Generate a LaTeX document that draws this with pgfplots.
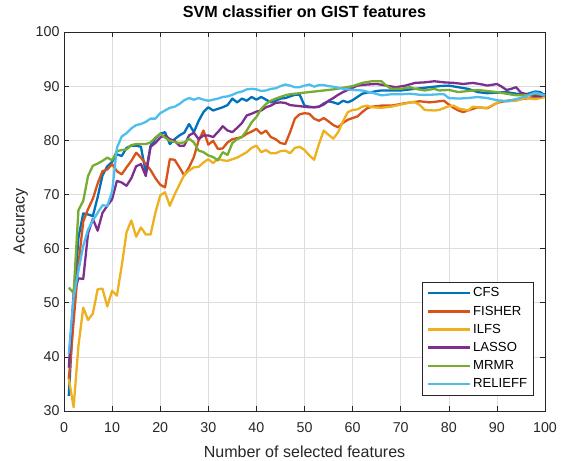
\documentclass[border=0pt]{standalone}
\usepackage{fontspec}
\setmainfont{Liberation Sans}
\usepackage{pgfplots}
\pgfplotsset{compat=1.18}
\definecolor{cCFS}{RGB}{0,114,189}
\definecolor{cFISHER}{RGB}{217,83,25}
\definecolor{cILFS}{RGB}{237,177,32}
\definecolor{cLASSO}{RGB}{126,47,142}
\definecolor{cMRMR}{RGB}{119,172,48}
\definecolor{cRELIEFF}{RGB}{77,190,238}
\definecolor{axgray}{RGB}{38,38,38}
\begin{document}
\begin{tikzpicture}
\useasboundingbox (-64bp,-50bp) rectangle (498bp,411bp);
\begin{axis}[
  scale only axis, width=481bp, height=379bp,
  xmin=0, xmax=100, ymin=30, ymax=100,
  xtick={0,10,...,100}, ytick={30,40,...,100},
  grid=major, grid style={color=black!13, line width=0.5bp},
  axis line style={color=axgray, line width=0.5bp},
  tick align=inside, tick pos=both,
  major tick length=5bp,
  tick style={color=axgray, line width=0.5bp},
  /pgf/number format/assume math mode=true,
  ticklabel style={font=\fontsize{14.3}{16}\selectfont, color=axgray},
  xticklabel style={yshift=-8bp},
  yticklabel style={xshift=-1bp},
  xlabel={Number of selected features}, ylabel={Accuracy},
  label style={font=\fontsize{16.1}{18}\selectfont, color=axgray},
  xlabel style={at={(axis description cs:0.5,-0.108)}, anchor=center},
  ylabel style={at={(axis description cs:-0.090,0.5)}, anchor=center},
  title={SVM classifier on GIST features},
  title style={font=\fontsize{16.2}{18}\selectfont\bfseries, at={(axis description cs:0.5,1.037)}, anchor=center},
  every axis plot/.append style={line width=2.3bp, line join=round},
  legend style={font=\fontsize{13.2}{15}\selectfont, at={(0.977,0.042)}, anchor=south east, draw=axgray, line width=0.5bp, fill=white, row sep=3.6bp, inner xsep=4.5bp, inner ysep=3.5bp},
  legend cell align=left,
  legend image code/.code={\draw[#1, line width=2.6bp, line cap=butt] (0bp,0bp) -- (42bp,0bp);},
]
\addplot[color=cCFS] coordinates {
(1,32.8)(2,49)(3,62)(4,66.5)(5,66.3)(6,66)(7,69.5)(8,73.5)(9,75.2)(10,76)
(11,77.4)(12,77.1)(13,78.6)(14,79)(15,79)(16,78.8)(17,74)(18,79)(19,80.3)(20,81.2)
(21,81.5)(22,79.3)(23,80.2)(24,80.9)(25,81.4)(26,83)(27,81.5)(28,83.6)(29,85.2)(30,86.1)
(31,85.5)(32,85.8)(33,86.1)(34,86.5)(35,87.7)(36,87)(37,87.7)(38,87.3)(39,88)(40,87.5)
(41,88)(42,87.5)(43,87)(44,87.3)(45,87.7)(46,87.8)(47,88.1)(48,88.4)(49,88.4)(50,86.4)
(51,86.2)(52,86.1)(53,86.2)(54,86.8)(55,87.2)(56,87)(57,86.7)(58,87.3)(59,87)(60,87.4)
(61,88)(62,88.6)(63,88.8)(64,88.9)(65,89.1)(66,89.2)(68,89.2)(70,89.2)(72,89.4)(74,89.6)
(76,89.8)(78,90)(80,90.1)(82,89.8)(84,89.5)(86,88.9)(88,88.7)(90,88.8)(92,88.9)(94,88.6)
(96,88.5)(98,89)(99,88.9)(100,88.3)};
\addlegendentry{CFS}
\addplot[color=cFISHER] coordinates {
(1,35.9)(2,46.5)(3,57)(4,65)(5,67.3)(6,69.2)(7,72)(8,74.3)(9,74.6)(10,75.6)
(11,74.3)(12,73.7)(13,75)(14,76.2)(15,77.7)(16,76.8)(17,75.6)(18,74.5)(19,73)(20,71.8)
(21,71.3)(22,76.5)(23,76.4)(24,75)(25,73.5)(26,75)(27,76.9)(28,80)(29,81.8)(30,79.2)
(31,79.9)(32,78.4)(33,78.5)(34,79.6)(35,80.2)(36,80.4)(37,80.6)(38,81.2)(39,81.6)(40,82.1)
(41,81.2)(42,81.8)(43,80.6)(44,80.2)(45,79.5)(46,79.3)(47,81.5)(48,84)(49,84.8)(50,85)
(51,84.9)(52,84)(53,83.6)(54,84.1)(55,83.5)(56,82.8)(57,82.4)(58,83.2)(59,83.8)(60,84.1)
(61,84.4)(62,85.2)(63,85.9)(64,86.2)(66,86.4)(68,86.4)(70,86.7)(72,87)(74,87.2)(76,87)
(78,87.2)(79,87.3)(80,86.6)(81,86)(82,85.5)(83,85.2)(84,85.5)(86,86.1)(88,85.9)(90,86.9)
(92,87.3)(94,87.5)(96,87.7)(98,88)(100,88.3)};
\addlegendentry{FISHER}
\addplot[color=cILFS] coordinates {
(1,36)(2,30.7)(3,42)(4,49.1)(5,46.8)(6,48)(7,52.5)(8,52.6)(9,49.3)(10,52.2)
(11,51.3)(12,56.8)(13,63)(14,65.2)(15,62.2)(16,63.9)(17,62.6)(18,62.6)(19,66.6)(20,69.8)
(21,70.4)(22,67.9)(23,70)(24,71.8)(25,73.6)(26,74.4)(27,75)(28,75.1)(29,75.9)(30,76.5)
(31,75.8)(32,76.6)(33,76.3)(34,76.2)(35,76.5)(36,76.8)(37,77.3)(38,77.8)(39,78.6)(40,79)
(41,77.8)(42,78.2)(43,77.6)(44,77.6)(45,78)(46,78.1)(47,77.6)(48,78.6)(49,78.8)(50,78.2)
(51,77.2)(52,76.4)(53,79.3)(54,81.8)(55,81)(56,80.3)(57,81.5)(58,83.5)(59,85.2)(60,85.6)
(61,85.7)(62,86.2)(63,86.4)(64,86.1)(66,86)(68,86.2)(70,86.6)(72,87)(73,87)(74,86.5)
(75,85.6)(77,85.5)(78,85.6)(80,86.3)(81,86.4)(82,85.9)(84,85.5)(85,86.2)(87,86)(88,86)
(90,86.9)(91,87.3)(92,87.2)(94,87.3)(96,87.8)(98,87.6)(100,88)};
\addlegendentry{ILFS}
\addplot[color=cLASSO] coordinates {
(1,38)(2,51.6)(3,54.5)(4,54.4)(5,62.8)(6,65.5)(7,63.3)(8,66.6)(9,67.9)(10,69.1)
(11,72.5)(12,72.2)(13,71.6)(14,73)(15,75.2)(16,75.6)(17,73.4)(18,78.8)(19,79.5)(20,80.5)
(21,80.9)(22,80.2)(23,79.9)(24,79)(25,79)(26,80.9)(27,81.4)(28,80.2)(29,80.9)(30,80.9)
(31,80.6)(32,81.5)(33,82.6)(34,81.8)(35,81.5)(36,82.3)(37,83.2)(38,84.6)(39,84.9)(40,85.3)
(41,85.5)(42,86.1)(43,86.4)(44,86.9)(45,87)(46,86.9)(47,86.5)(48,86.4)(49,86.3)(50,86.2)
(51,86.1)(52,86.1)(53,86.2)(54,86.6)(55,87.3)(56,87.8)(57,88.4)(58,88.9)(59,89.3)(60,89.7)
(61,90.1)(63,90.3)(65,90.4)(67,90.1)(69,89.8)(71,90.1)(73,90.6)(75,90.7)(77,90.9)(79,90.7)
(81,90.6)(83,90.4)(85,90.6)(87,90.3)(88,90.1)(90,90.4)(91,89.9)(92,89.3)(93,89.5)(94,89.8)
(95,88.8)(97,88.3)(99,88.1)(100,88.5)};
\addlegendentry{LASSO}
\addplot[color=cMRMR] coordinates {
(1,52.8)(2,51.8)(3,67.1)(4,68.8)(5,73.4)(6,75.3)(7,75.7)(8,76.2)(9,76.8)(10,76.3)
(11,78)(12,78.2)(13,78.3)(14,79.1)(15,79.3)(16,79.3)(17,79.3)(18,79.6)(19,80.5)(20,81.2)
(21,80.5)(22,79.9)(23,79.7)(24,79.5)(25,79.6)(26,80.3)(27,79.6)(28,78.1)(29,77.8)(30,77.2)
(31,76.9)(32,76.3)(33,77.8)(34,77.3)(35,79.5)(36,80.2)(37,80.6)(38,81.8)(39,83.3)(40,84.3)
(41,85.8)(42,86.7)(43,87.3)(44,87.7)(45,88)(46,88.3)(47,88.5)(48,88.6)(49,88.7)(50,88.8)
(52,89)(54,89.2)(56,89.4)(58,89.7)(60,90)(62,90.6)(64,90.9)(66,90.9)(67,90.1)(68,89.5)
(70,89.5)(72,89.8)(73,89.5)(75,89.2)(77,89.5)(78,89.2)(80,89.3)(82,88.9)(84,89.1)(86,89.3)
(88,89.1)(90,88.9)(92,88.6)(94,88.3)(96,88.3)(98,88.6)(100,88.3)};
\addlegendentry{MRMR}
\addplot[color=cRELIEFF] coordinates {
(1,40.6)(2,51)(3,55.9)(4,60.5)(5,63.5)(6,65.2)(7,66.6)(8,68)(9,67.9)(10,70.5)
(11,78.6)(12,80.7)(13,81.3)(14,82.2)(15,82.8)(16,83)(17,83.4)(18,84)(19,84)(20,85)
(21,85.5)(22,86)(23,86.2)(24,86.7)(25,87.4)(26,87.8)(27,87.5)(28,87.8)(29,87.5)(30,87.3)
(31,87.5)(32,87.7)(33,88)(34,88.1)(35,88.4)(36,88.8)(37,89)(38,89.4)(39,89.5)(40,89.4)
(41,89.1)(42,89.2)(43,89.5)(44,89.6)(45,90)(46,90.3)(47,90.1)(48,89.8)(49,89.8)(50,90.1)
(51,90.3)(52,89.9)(53,90.2)(54,90.2)(55,90)(56,89.9)(58,89.5)(60,89.3)(62,89.2)(64,88.8)
(66,88.3)(68,88.5)(70,88.5)(72,88.6)(74,88.4)(76,88.4)(78,88.5)(79,88.5)(80,87.8)(82,87.7)
(84,87.8)(86,88)(88,87.8)(90,87.4)(92,87.2)(94,87.6)(96,88.1)(98,88.8)(100,88.3)};
\addlegendentry{RELIEFF}
\end{axis}
\end{tikzpicture}
\end{document}
